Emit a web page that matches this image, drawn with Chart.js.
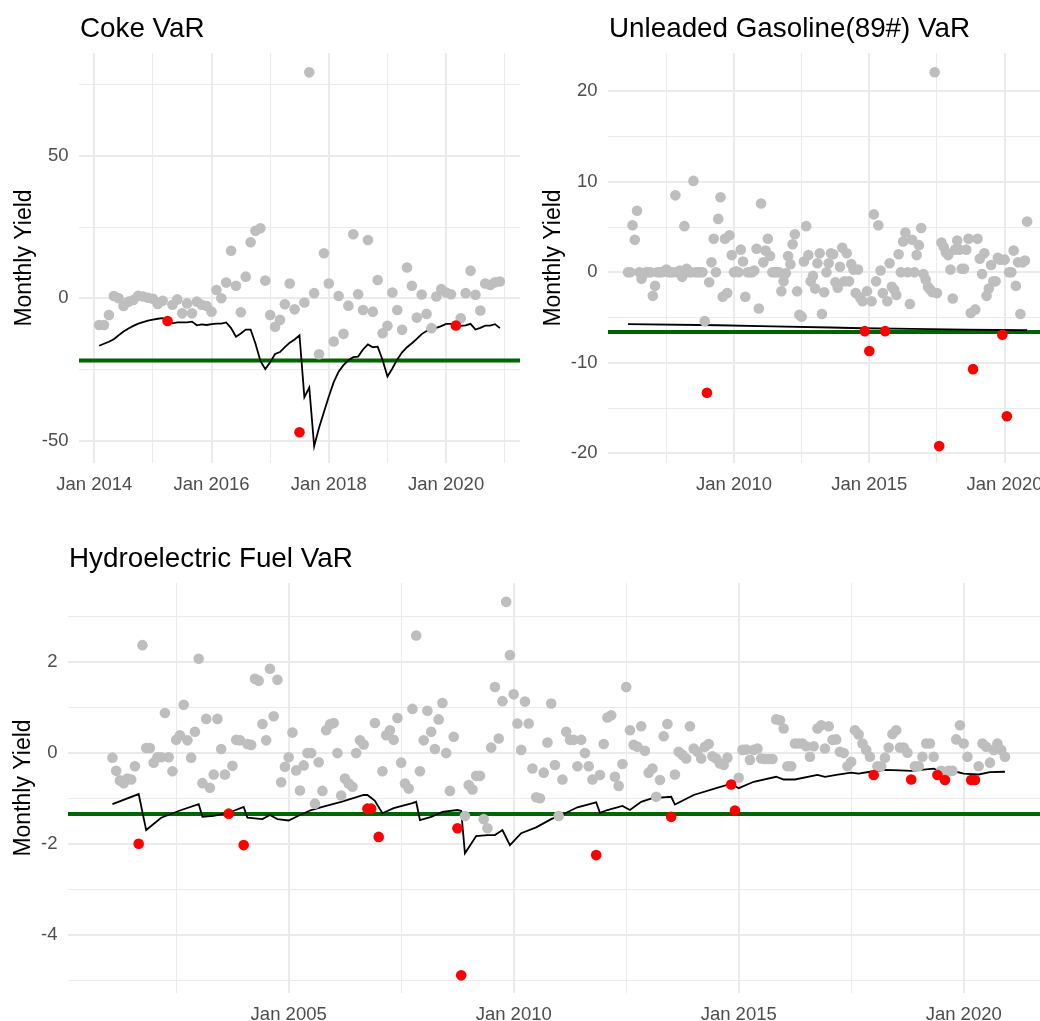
<!DOCTYPE html>
<html>
<head>
<meta charset="utf-8">
<script src="https://cdn.jsdelivr.net/npm/chart.js@4.4.1/dist/chart.umd.min.js"></script>
<style>
  html, body { margin: 0; padding: 0; background: #fff; overflow: hidden; width: 1040px; height: 1021px; }
  canvas { position: absolute; }
</style>
</head>
<body>
<canvas id="coke" width="520" height="500" style="left:0;top:0"></canvas>
<canvas id="gas" width="527" height="500" style="left:520px;top:0"></canvas>
<canvas id="hydro" width="1046" height="491" style="left:0;top:530px"></canvas>
<script>
// ---- Coke: monthly yield from Feb 2014 ----
const cokeStart = [2014, 2];
const cokeYield = [
  -9.4, -9.4, -5.9, 0.8, 0.0, -2.7, -1.2, -0.6, 0.9, 0.6, 0.2,
  -0.2, -2.0, -0.9, -8.0, -2.3, -0.4, -5.3, -1.8, -5.3, -1.2, -2.3, -2.7,
  -4.7, 2.9, 0.0, 5.5, 16.7, 4.4, -4.9, 7.6, 19.7, 23.7, 24.6, 6.2,
  -5.9, -10.0, -7.6, -2.1, 5.2, -3.9, -47.1, -1.5, 79.4, 1.8, -19.7, 15.8,
  5.2, -15.2, 0.8, -12.5, -2.6, 22.5, 1.4, -4.1, 20.5, -4.7, 6.4, -12.3,
  -9.7, 2.0, -4.1, -11.1, 10.8, 4.4, -6.8, 1.3, -5.5, -10.5, 0.6, 3.2,
  2.0, 1.4, -9.6, -7.0, 1.8, 9.7, 1.2, -4.3, 5.2, 4.7, 5.6, 5.9
];
const cokeVaR = [
  -16.7, -16.0, -15.3, -14.4, -13.0, -11.7, -10.6, -9.7, -8.9, -8.4, -7.9,
  -7.5, -7.2, -7.0, -7.4, -8.8, -8.5, -8.5, -8.5, -8.2, -9.5, -9.2, -9.4,
  -9.1, -8.9, -8.9, -8.5, -10.5, -13.5, -12.4, -11.0, -11.0, -16.0, -22.0, -24.9,
  -22.5, -19.6, -18.9, -17.2, -15.6, -14.5, -13.0, -34.8, -31.4, -52.0, -45.5, -40.0,
  -34.5, -29.5, -25.8, -23.5, -21.8, -20.7, -20.5, -18.0, -16.2, -17.2, -17.0, -21.7,
  -27.5, -24.7, -21.5, -19.0, -17.2, -15.8, -14.3, -12.6, -11.5, -11.2, -10.4, -9.8,
  -9.0, -9.0, -9.3, -9.7, -9.5, -9.0, -11.0, -10.4, -9.6, -9.6, -9.1, -10.5
];
const cokeBreaches = [14, 41, 73];
const cokeLimit = -21.9;

// ---- Unleaded gasoline (89#): monthly yield from Feb 2006 ----
const gasStart = [2006, 2];
const gasYield = [
  0, 0, 5.2, 3.6, 6.8, 0, -0.7, -0.1, 0, 0, 0,
  -2.6, -1.5, 0, 0, 0, 0.1, 0.3, 0, 0, 0, 8.5, 0,
  0.2, -0.5, 5.1, 0.4, 0, 0, 10.1, 0, 0, 0, 0, -5.4,
  -13.3, -1.1, 1.1, 3.7, 0, 5.9, 8.3, -2.7, 3.7, -2.3, 4.1, 1.9,
  0, 0.1, 0, 2.5, 1.2, -2.7, 0, 0, 0, 0.2, 2.6, -4.0,
  7.6, 1.1, 2.4, 3.7, 1.8, 0, 0, 0, 0, -2.1, -1.0, -0.1,
  1.8, 0.9, 3.1, 4.2, -2.1, -4.7, -4.9, 1.2, 5.1, 1.9, -1.0, -0.4,
  -1.8, 1.0, 2.1, -4.6, -2.2, 0, 1.0, 2.1, 2.0, -1.1, -1.7, 0.6,
  2.7, -1.0, 2.1, -1.0, 0.9, 0.3, -2.3, 0.3, -2.8, -3.2, -6.5, -2.1,
  -8.7, -3.2, 6.4, -1.0, 5.2, 0.2, -2.3, -6.5, -3.2, 1.0, -1.6, -1.9,
  -2.5, 2.0, 0, 3.4, 4.4, 0, -3.5, 3.6, 0, 1.9, 3.0, 4.9,
  -0.2, -0.8, -1.6, -1.9, -2.2, 22.1, -2.3, -19.2, 3.3, 2.8, 2.2, 1.9,
  0.3, -2.9, 2.5, 3.5, 2.5, 0.4, 0.4, 2.5, 3.7, -4.5, -10.7, -4.1,
  3.7, 1.5, -0.2, 2.1, -2.6, -1.8, 0.8, -1.0, -1.0, 1.6, 1.4, -6.9,
  1.4, -15.9, 0, 0, 2.4, -1.5, 1.1, -4.6, 1.1, 1.3, 5.6
];
const gasVaRMonth = [0, 40, 64, 90, 104, 126, 150, 177];
const gasVaRValue = [-5.72, -5.85, -5.97, -6.10, -6.18, -6.26, -6.33, -6.40];
const gasBreaches = [35, 105, 107, 114, 138, 153, 166, 168];
const gasLimit = -6.6;

// ---- Hydroelectric fuel: monthly yield from Feb 2001 ----
const hydroStart = [2001, 2];
const hydroYield = [
  -0.10, -0.39, -0.60, -0.66, -0.56, -0.58, -0.29, -1.99, 2.37, 0.11, 0.11,
  -0.21, -0.09, -0.09, 0.88, -0.09, -0.40, 0.29, 0.39, 1.06, 0.28, -0.10, 0.47,
  2.07, -0.66, 0.75, -0.76, -0.47, 0.75, 0.09, -0.47, -1.33, -0.28, 0.29, 0.28,
  -2.02, 0.20, 0.18, 1.63, 1.59, 0.64, 0.28, 1.85, 0.81, 1.61, -0.64, -0.30,
  -0.09, 0.45, -0.38, -0.82, -0.27, 0.00, 0.00, -1.11, -0.20, -0.83, 0.50, 0.63,
  0.66, 0.00, -0.93, -0.56, -0.67, -0.74, 0.00, 0.28, 0.19, -1.22, -1.22, 0.66,
  -1.84, -0.40, 0.39, 0.50, 0.29, 0.77, -0.21, -0.67, -0.78, 0.97, 2.58, -0.40,
  0.28, 0.93, 0.47, 0.09, 0.74, 1.10, 0.00, -0.83, 0.36, -1.65, -4.88, -1.38,
  -0.70, -0.80, -0.50, -0.50, -1.45, -1.65, 0.12, 1.45, 0.32, 1.14, 3.32, 2.15,
  1.29, 0.65, 0.07, 1.13, 0.65, -0.34, -0.97, -0.99, -0.43, 0.23, 1.09, -0.26,
  -1.38, -0.58, 0.47, 0.29, 0.29, -0.29, 0.29, 0.00, -0.29, -0.58, -2.24, -0.48,
  0.20, 0.78, 0.83, -0.52, -0.72, -0.24, 1.45, 0.50, 0.18, 0.14, 0.59, 0.05,
  -0.43, -0.34, -0.96, -0.59, 0.37, 0.64, -1.40, -0.47, 0.03, -0.04, -0.12, 0.59,
  0.10, 0.03, -0.12, 0.14, 0.20, -0.07, -0.12, -0.23, -0.26, -0.10, -0.69, -1.26,
  -0.54, 0.07, 0.08, -0.15, 0.07, 0.10, -0.12, -0.13, -0.13, -0.13, 0.74, 0.72,
  0.54, -0.29, -0.29, 0.21, 0.21, 0.21, 0.15, -0.08, 0.15, 0.54, 0.61, 0.10,
  0.59, 0.29, 0.30, 0.03, 0.00, -0.29, -0.19, 0.50, 0.41, 0.21, 0.07, -0.08,
  -0.48, -0.29, -0.29, -0.10, 0.12, 0.42, 0.50, 0.12, 0.12, 0.01, -0.58, -0.29,
  -0.29, -0.08, 0.21, 0.21, -0.08, -0.48, -0.39, -0.59, -0.39, -0.39, 0.30, 0.61,
  0.21, -0.08, -0.59, -0.59, -0.29, 0.21, 0.14, -0.21, 0.07, 0.21, 0.07, -0.08
];
const hydroVaRMonth = [0, 7, 9, 13, 18, 23, 24, 27, 31, 35, 36, 40, 42, 44, 47, 50, 53, 56, 61, 67,
  68, 70, 72, 75, 80, 81, 82, 85, 88, 92, 93, 94, 97, 100, 102, 104, 106, 109, 113, 117,
  121, 124, 129, 130, 132, 136, 138, 141, 144, 149, 150, 155, 161, 165, 167, 171, 177, 179, 182, 188,
  190, 193, 197, 199, 202, 206, 210, 213, 219, 221, 225, 227, 231, 234, 238];
const hydroVaRValue = [-1.12, -0.90, -1.69, -1.42, -1.26, -1.12, -1.40, -1.38, -1.31, -1.18,
  -1.42, -1.45, -1.36, -1.45, -1.48, -1.36, -1.25, -1.18, -1.07, -0.92,
  -0.92, -1.05, -1.32, -1.21, -1.10, -1.07, -1.47, -1.40, -1.29, -1.25,
  -1.27, -2.20, -1.82, -1.80, -1.80, -1.69, -2.02, -1.76, -1.63, -1.45,
  -1.31, -1.19, -1.08, -1.31, -1.25, -1.16, -1.25, -1.07, -0.99, -0.96,
  -1.13, -0.92, -0.77, -0.67, -0.77, -0.63, -0.52, -0.58, -0.58, -0.48,
  -0.52, -0.48, -0.43, -0.45, -0.41, -0.37, -0.38, -0.39, -0.34, -0.41,
  -0.41, -0.45, -0.47, -0.42, -0.41];
const hydroBreaches = [7, 31, 35, 68, 69, 71, 92, 93, 129, 149, 165, 166, 203, 213, 220, 222, 229, 230];
const hydroLimit = -1.34;

// axis ticks (labelled years, plain grid years, y values)
const cokeXMajor = [2014, 2016, 2018, 2020], cokeXMinor = [2015, 2017, 2019, 2021];
const cokeYMajor = [-50, 0, 50], cokeYMinor = [-25, 25, 75];
const gasXMajor = [2010, 2015, 2020], gasXMinor = [2007.5, 2012.5, 2017.5];
const gasYMajor = [-20, -10, 0, 10, 20], gasYMinor = [-15, -5, 5, 15];
const hydroXMajor = [2005, 2010, 2015, 2020], hydroXMinor = [2002.5, 2007.5, 2012.5, 2017.5];
const hydroYMajor = [-4, -2, 0, 2], hydroYMinor = [-5, -3, -1, 1, 3];

const FONT = '"Liberation Sans", Arial, sans-serif';
Chart.defaults.font.family = FONT;

const panelTitle = {
  id: 'panelTitle',
  afterDraw(chart, args, opts) {
    const ctx = chart.ctx;
    ctx.save();
    ctx.font = '27.8px ' + FONT;
    ctx.fillStyle = '#000';
    ctx.textBaseline = 'alphabetic';
    ctx.fillText(opts.text, chart.chartArea.left + 1, opts.baseline);
    ctx.restore();
  }
};

function tickList(major, minor) {
  return major.map(v => ({ value: v, main: true }))
    .concat(minor.map(v => ({ value: v, main: false })))
    .sort((a, b) => a.value - b.value);
}

function makePanel(id, p) {
  const at = i => p.start[0] + (p.start[1] - 1 + i) / 12;
  const gray = [], red = [];
  p.values.forEach((v, i) => (p.breaches.includes(i) ? red : gray).push({ x: at(i), y: v }));
  const varLine = p.varMonths.map((m, j) => ({ x: at(m), y: p.varValues[j] }));
  const limitLine = [{ x: p.xMin, y: p.limit }, { x: p.xMax, y: p.limit }];

  const grid = {
    color: '#ebebeb',
    lineWidth: c => (c.tick && c.tick.main ? 2 : 1),
    drawTicks: false
  };

  new Chart(document.getElementById(id), {
    type: 'scatter',
    data: {
      datasets: [
        { data: red, pointBackgroundColor: '#ff0000', pointRadius: 5.3, pointBorderWidth: 0, order: 0 },
        { data: gray, pointBackgroundColor: '#bebebe', pointRadius: 5.3, pointBorderWidth: 0, order: 1 },
        { data: varLine, showLine: true, borderColor: '#000', borderWidth: 1.8, pointRadius: 0, order: 2 },
        { data: limitLine, showLine: true, borderColor: '#006400', borderWidth: 4, pointRadius: 0, order: 3 }
      ]
    },
    options: {
      responsive: false,
      animation: false,
      events: [],
      layout: { padding: { top: 53, left: 0, right: 0, bottom: 0 }, autoPadding: false },
      plugins: {
        legend: { display: false },
        tooltip: { enabled: false },
        panelTitle: { text: p.title, baseline: 37 }
      },
      scales: {
        x: {
          type: 'linear',
          min: p.xMin, max: p.xMax,
          afterBuildTicks: s => { s.ticks = tickList(p.xMajor, p.xMinor); },
          afterFit: s => { s.height = p.axisH; s.paddingLeft = 0; s.paddingRight = 0; },
          grid: grid,
          border: { display: false },
          ticks: {
            autoSkip: false, maxRotation: 0, padding: 11,
            color: '#4d4d4d', font: { size: 18.5 },
            callback: (v, i, t) => (t[i].main ? 'Jan ' + v : '')
          }
        },
        y: {
          type: 'linear',
          min: p.yMin, max: p.yMax,
          afterBuildTicks: s => { s.ticks = tickList(p.yMajor, p.yMinor); },
          afterFit: s => { s.width = p.axisW; s.paddingTop = 0; s.paddingBottom = 0; },
          grid: grid,
          border: { display: false },
          title: {
            display: true, text: 'Monthly Yield', color: '#000',
            font: { size: 23 }, padding: { top: p.yTitlePad, bottom: 0 }
          },
          ticks: {
            autoSkip: false, padding: 10.5,
            color: '#4d4d4d', font: { size: 18.5 },
            callback: (v, i, t) => (t[i].main ? String(v) : '')
          }
        }
      }
    },
    plugins: [panelTitle]
  });
}

makePanel('coke', {
  title: 'Coke VaR', start: cokeStart, values: cokeYield, breaches: cokeBreaches,
  varMonths: cokeVaR.map((v, i) => i), varValues: cokeVaR, limit: cokeLimit,
  xMin: 2013.74, xMax: 2021.26, yMin: -57.9, yMax: 86.2,
  xMajor: cokeXMajor, xMinor: cokeXMinor, yMajor: cokeYMajor, yMinor: cokeYMinor,
  axisW: 79, axisH: 37, yTitlePad: 11
});

makePanel('gas', {
  title: 'Unleaded Gasoline(89#) VaR', start: gasStart, values: gasYield, breaches: gasBreaches,
  varMonths: gasVaRMonth, varValues: gasVaRValue, limit: gasLimit,
  xMin: 2005.344, xMax: 2021.567, yMin: -21.07, yMax: 24.23,
  xMajor: gasXMajor, xMinor: gasXMinor, yMajor: gasYMajor, yMinor: gasYMinor,
  axisW: 88, axisH: 37, yTitlePad: 20
});

makePanel('hydro', {
  title: 'Hydroelectric Fuel VaR', start: hydroStart, values: hydroYield, breaches: hydroBreaches,
  varMonths: hydroVaRMonth, varValues: hydroVaRValue, limit: hydroLimit,
  xMin: 2000.096, xMax: 2021.829, yMin: -5.267, yMax: 3.734,
  xMajor: hydroXMajor, xMinor: hydroXMinor, yMajor: hydroYMajor, yMinor: hydroYMinor,
  axisW: 68, axisH: 28, yTitlePad: 10
});
</script>
</body>
</html>
